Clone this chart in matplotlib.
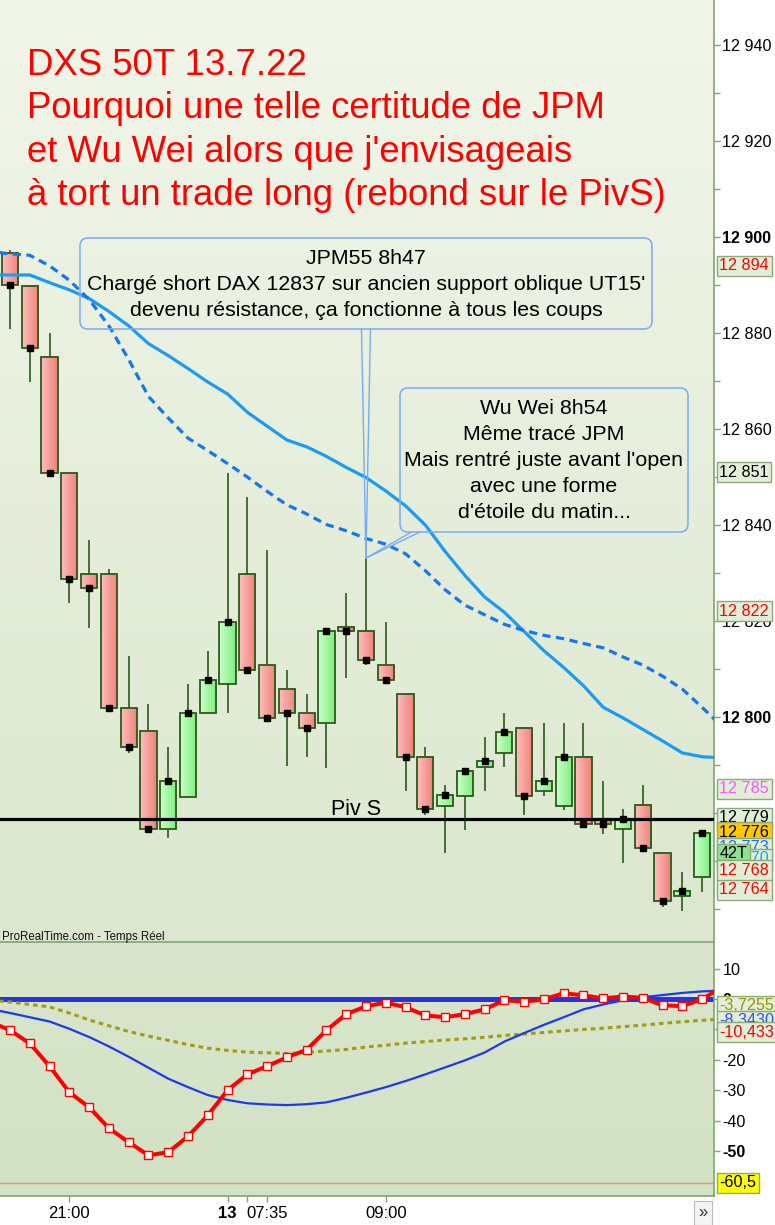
import numpy as np
import matplotlib
matplotlib.use("Agg")
import matplotlib.pyplot as plt
from matplotlib.patches import Rectangle, FancyBboxPatch
from matplotlib.lines import Line2D
from matplotlib.colors import LinearSegmentedColormap
from matplotlib.transforms import Affine2D, blended_transform_factory
import matplotlib.ticker as mticker

plt.rcParams['font.family'] = ['Liberation Sans', 'DejaVu Sans']

# ---------------- data ----------------
opens = [12896.7, 12889.8, 12875.0, 12850.8, 12829.8, 12829.8, 12801.9, 12797.0, 12776.7, 12783.3,
         12800.8, 12806.9, 12829.8, 12810.8, 12805.8, 12800.8, 12798.8, 12818.8, 12817.9, 12810.8,
         12804.8, 12791.7, 12781.5, 12783.5, 12789.6, 12792.5, 12797.7, 12784.6, 12781.5, 12791.7,
         12778.8, 12776.7, 12781.7, 12771.7, 12762.7, 12766.7]
highs = [12897.2, 12889.8, 12880.0, 12850.8, 12836.9, 12830.8, 12812.7, 12802.7, 12793.8, 12806.9,
         12813.8, 12850.8, 12845.8, 12834.8, 12809.8, 12804.8, 12817.9, 12825.8, 12833.1, 12819.8,
         12804.8, 12793.8, 12785.8, 12788.8, 12795.8, 12800.8, 12797.7, 12798.8, 12798.8, 12798.8,
         12786.7, 12780.8, 12785.8, 12771.7, 12767.7, 12775.8]
lows = [12880.8, 12869.8, 12850.8, 12823.8, 12818.5, 12801.9, 12792.5, 12776.5, 12774.8, 12783.3,
        12800.8, 12800.8, 12809.8, 12799.8, 12789.8, 12791.7, 12789.4, 12808.1, 12810.8, 12807.7,
        12784.6, 12779.6, 12771.7, 12776.5, 12784.6, 12789.6, 12779.6, 12783.5, 12780.6, 12777.7,
        12775.6, 12769.6, 12772.7, 12760.4, 12759.6, 12763.5]
closes = [12890.0, 12876.9, 12850.8, 12828.8, 12826.9, 12801.9, 12793.8, 12776.7, 12786.7, 12800.8,
          12807.7, 12819.8, 12809.8, 12799.8, 12800.8, 12797.7, 12817.9, 12817.9, 12811.9, 12807.7,
          12791.7, 12780.8, 12783.8, 12788.8, 12790.8, 12796.9, 12783.5, 12786.7, 12791.7, 12777.7,
          12777.7, 12778.8, 12772.7, 12761.7, 12763.8, 12775.8]

# moving averages, bar index -1 .. 36
ma_solid = [12892.1, 12892.1, 12892.1, 12890.5, 12889.0, 12887.2, 12884.5, 12881.5, 12877.8, 12875.3,
            12872.6, 12869.8, 12867.3, 12863.5, 12860.6, 12857.7, 12856.3, 12854.3, 12852.0, 12849.9,
            12847.1, 12844.0, 12840.0, 12834.5, 12829.5, 12825.0, 12821.8, 12817.8, 12813.8, 12810.3,
            12806.5, 12802.0, 12799.8, 12797.4, 12795.0, 12792.5, 12791.7, 12791.5]
ma_dashed = [12897.0, 12896.5, 12896.2, 12894.0, 12891.0, 12887.0, 12881.5, 12874.5, 12866.8, 12862.3,
             12858.1, 12855.5, 12852.8, 12850.0, 12847.0, 12844.2, 12842.3, 12840.1, 12838.8, 12837.2,
             12836.0, 12834.0, 12830.5, 12826.5, 12823.3, 12821.3, 12819.3, 12818.0, 12817.0, 12816.3,
             12815.3, 12814.4, 12812.5, 12810.8, 12808.5, 12805.8, 12802.0, 12798.0]

# indicator panel, bar index -1 .. 36
osc_red = [-7.5, -10.3, -14.6, -22.1, -30.7, -35.6, -42.5, -47.1, -51.4, -50.4, -45.2, -38.3, -30.0,
           -24.8, -22.1, -19.2, -16.7, -10.3, -5.0, -2.4, -1.2, -2.7, -5.4, -6.0, -5.0, -3.4, -0.4,
           -0.9, -0.1, 1.9, 1.2, 0.2, 0.8, 0.4, -2.1, -2.3, -0.1, 4.0]
osc_blue = [-3.3, -4.6, -6.0, -7.4, -9.8, -12.5, -15.6, -19.0, -22.6, -26.2, -29.0, -31.6, -33.2,
            -34.3, -34.7, -34.9, -34.6, -34.0, -32.5, -30.8, -29.0, -27.0, -24.8, -22.5, -20.2,
            -17.6, -14.0, -11.2, -8.5, -6.0, -3.4, -1.8, -0.4, 0.6, 1.3, 2.0, 2.5, 2.8]
osc_olive = [-0.4, -1.0, -1.8, -2.6, -4.6, -6.9, -8.8, -10.7, -12.2, -13.6, -15.0, -16.2, -16.9,
             -17.5, -17.7, -17.9, -17.6, -17.1, -16.6, -15.8, -15.2, -14.5, -14.0, -13.5, -13.1,
             -12.6, -12.0, -11.5, -11.0, -10.5, -10.0, -9.6, -9.1, -8.6, -8.0, -7.5, -7.0, -6.6]

pivot_s = 12778.75
osc_zero = 0.0
osc_low = -60.5

price_ticks = [12780, 12800, 12820, 12840, 12860, 12880, 12900, 12920, 12940]
price_tick_labels = ["", "12 800", "12 820", "12 840", "12 860", "12 880", "12 900", "12 920", "12 940"]
osc_ticks = [10, 0, -10, -20, -30, -40, -50]
x_tick_pos = [3, 11, 12, 13, 19]
x_tick_labels = ["21:00", "13", "", "07:35", "09:00"]

title_lines = ["DXS 50T 13.7.22",
               "Pourquoi une telle certitude de JPM",
               "et Wu Wei alors que j'envisageais",
               "à tort un trade long (rebond sur le PivS)"]
jpm_lines = ["JPM55 8h47",
             "Chargé short DAX 12837 sur ancien support oblique UT15'",
             "devenu résistance, ça fonctionne à tous les coups"]
wu_lines = ["Wu Wei 8h54", "Même tracé JPM", "Mais rentré juste avant l'open",
            "avec une forme", "d'étoile du matin..."]

price_labels = [(12894, "12 894", "#ff0000", "#e3eed8"),
                (12851, "12 851", "#000000", "#e3eed8"),
                (12822, "12 822", "#ff0000", "#e3eed8"),
                (12785, "12 785", "#ff55ff", "#e3eed8"),
                (12779, "12 779", "#000000", "#e3eed8"),
                (12776, "12 776", "#000000", "#ffc800"),
                (12772.7, "12 773", "#1e6cff", "#e3eed8"),
                (12770.4, "12 770", "#1e9cff", "#e3eed8"),
                (12771.5, "42T", "#000000", "#8fe08f"),
                (12768, "12 768", "#ff0000", "#e3eed8"),
                (12764, "12 764", "#ff0000", "#e3eed8")]
osc_labels = [(-2.3, "-3,7255", "#9a9400", "#e3eed8"),
              (-7.2, "-8,3430", "#2a50ff", "#e3eed8"),
              (-10.9, "-10,433", "#ff0000", "#e3eed8"),
              (-60.5, "-60,5", "#000000", "#ffff00")]

# ---------------- figure ----------------
W, H = 775, 1225
fig = plt.figure(figsize=(W / 100, H / 100), dpi=100)
fig.patch.set_facecolor('white')
P = Affine2D().scale(1.0 / W, -1.0 / H).translate(0, 1) + fig.transFigure  # pixel frame (top-left origin)

ax = fig.add_axes([0, 1 - 942 / H, 714 / W, 942 / H])
ax2 = fig.add_axes([0, 1 - 1196 / H, 714 / W, (1196 - 942) / H])

xlim = (-0.506, 35.6)
ax.set_xlim(*xlim)
ax2.set_xlim(*xlim)
ax.set_ylim(12753.1, 12949.4)
ax2.set_ylim(-64.8, 18.75)

grad = np.linspace(0, 1, 256).reshape(-1, 1)
ax.imshow(grad, extent=[0, 1, 0, 1], transform=ax.transAxes, aspect='auto', origin='upper',
          cmap=LinearSegmentedColormap.from_list('bg1', ['#f2f6ea', '#dbe7ce']), zorder=0)
ax2.imshow(grad, extent=[0, 1, 0, 1], transform=ax2.transAxes, aspect='auto', origin='upper',
           cmap=LinearSegmentedColormap.from_list('bg2', ['#d9e6cd', '#d2e2c4']), zorder=0)

edge_c = '#2b5a18'
for a in (ax, ax2):
    a.spines['left'].set_visible(False)
    for s in ('right', 'top', 'bottom'):
        a.spines[s].set_color('#7fa574')
        a.spines[s].set_linewidth(1.2)
ax.spines['top'].set_visible(False)
ax.spines['bottom'].set_visible(False)

# candles
red_cm = LinearSegmentedColormap.from_list('rc', ['#ffbdbd', '#ef8279'])
grn_cm = LinearSegmentedColormap.from_list('gc', ['#c8ffc8', '#7eee7e'])
hgrad = np.linspace(0, 1, 32).reshape(1, -1)
w = 0.82
xs = np.arange(len(opens))
ax.vlines(xs, lows, highs, color=edge_c, lw=1.2, zorder=2)
for i, (o, h, l, c) in enumerate(zip(opens, highs, lows, closes)):
    lo, hi = min(o, c), max(o, c)
    cm = grn_cm if c > o else red_cm
    ax.imshow(hgrad, extent=[i - w / 2, i + w / 2, lo, hi], aspect='auto', cmap=cm,
              interpolation='bilinear', zorder=3)
    ax.add_patch(Rectangle((i - w / 2, lo), w, hi - lo, fill=False, ec=edge_c, lw=1.3, zorder=4))
ax.plot(xs, closes, 's', color='black', ms=3.8, zorder=5, ls='none')

# moving averages
xi = np.arange(-1, len(ma_solid) - 1)
ax.plot(xi, ma_solid, color='#1b9cf2', lw=2.3, zorder=6, solid_capstyle='butt')
ax.plot(xi, ma_dashed, color='#1577f0', lw=2.3, ls=(0, (2.6, 1.7)), zorder=6)

# pivot
ax.axhline(pivot_s, color='black', lw=2.3, zorder=7)
ax.text(16.25, pivot_s + 0.85, "Piv S", fontsize=15.5, color='black', ha='left', va='baseline', zorder=8)

ax.set_xlim(*xlim)
ax.set_ylim(12753.1, 12949.4)

# y axis main
ax.yaxis.tick_right()
ax.set_yticks(price_ticks)
ax.set_yticklabels(price_tick_labels)
ax.yaxis.set_minor_locator(mticker.MultipleLocator(10))
ax.tick_params(axis='y', which='both', direction='out', length=4, width=1, color='#7fa574',
               labelsize=11.6, pad=2)
for lab, v in zip(ax.get_yticklabels(), price_ticks):
    if v in (12900, 12800):
        lab.set_fontweight('bold')
ax.set_xticks([])

# indicator
x2 = np.arange(-1, len(osc_red) - 1)
ax2.axhline(osc_zero, color='#2832e0', lw=3.6, zorder=2)
ax2.axhline(osc_low, color='#e8927e', lw=1.0, zorder=2)
ax2.plot(x2, osc_olive, color='#a39c12', lw=2.2, ls=(0, (1.5, 1.3)), zorder=3)
ax2.plot(x2, osc_blue, color='#1c3ae6', lw=1.6, zorder=3)
ax2.plot(x2, osc_red, color='#ff0000', lw=2.9, zorder=4, marker='s', ms=5.2, mfc='#fff4f0',
         mec='#ff0000', mew=1.0, markevery=list(range(1, len(osc_red) - 1)))
ax2.set_xlim(*xlim)
ax2.set_ylim(-64.8, 18.75)
ax2.yaxis.tick_right()
ax2.set_yticks(osc_ticks)
ax2.set_yticklabels([str(v) for v in osc_ticks])
ax2.tick_params(axis='y', direction='out', length=4, width=1, color='#7fa574', labelsize=11.6, pad=2)
for lab, v in zip(ax2.get_yticklabels(), osc_ticks):
    if v in (0, -50):
        lab.set_fontweight('bold')
ax2.set_xticks(x_tick_pos)
ax2.set_xticklabels(x_tick_labels)
ax2.tick_params(axis='x', direction='out', length=4, width=1, color='#7fa574', labelsize=12, pad=3)
for lab, t in zip(ax2.get_xticklabels(), x_tick_labels):
    if t == "13":
        lab.set_fontweight('bold')

# right-side value boxes
bt = blended_transform_factory(ax.transAxes, ax.transData)
for v, t, col, fc in price_labels:
    ax.text(1.0075, v, t, transform=bt, fontsize=11.6, color=col, ha='left', va='center',
            clip_on=False, zorder=20,
            bbox=dict(boxstyle='square,pad=0.16', fc=fc, ec='#86ad78', lw=1))
bt2 = blended_transform_factory(ax2.transAxes, ax2.transData)
for v, t, col, fc in osc_labels:
    ax2.text(1.0075, v, t, transform=bt2, fontsize=11.6, color=col, ha='left', va='center',
             clip_on=False, zorder=20,
             bbox=dict(boxstyle='square,pad=0.16', fc=fc, ec='#86ad78', lw=1))

# watermark text
fig.text(2 / W, 1 - 940 / H, "ProRealTime.com - Temps Réel", fontsize=8.3, color='#111111',
         ha='left', va='baseline')

# title
for k, line in enumerate(title_lines):
    fig.text(27 / W, 1 - (75 + 43.4 * k) / H, line, fontsize=26.3, color='#ff0000',
             ha='left', va='baseline')

# callouts
fig.canvas.draw()
tip_disp = ax.transData.transform((18, highs[18]))
tip = (tip_disp[0], H - tip_disp[1])
box_ec = '#7aaaf6'
b1 = FancyBboxPatch((80, 238), 572, 91, boxstyle='round,pad=0,rounding_size=8',
                    transform=P, fill=False, ec=box_ec, lw=1.1, zorder=30)
fig.add_artist(b1)
b2 = FancyBboxPatch((400, 388), 288, 144, boxstyle='round,pad=0,rounding_size=8',
                    transform=P, fill=False, ec=box_ec, lw=1.1, zorder=30)
fig.add_artist(b2)
for (xa, ya) in [(361.5, 329), (370.5, 329), (411.5, 532), (420, 532)]:
    fig.add_artist(Line2D([xa, tip[0]], [ya, tip[1]], transform=P, color=box_ec, lw=1.0, zorder=30))
for k, line in enumerate(jpm_lines):
    fig.text(366 / W, 1 - (264 + 26 * k) / H, line, fontsize=15.4, color='black',
             ha='center', va='baseline', zorder=31)
for k, line in enumerate(wu_lines):
    fig.text(544 / W, 1 - (414 + 26 * k) / H, line, fontsize=15.4, color='black',
             ha='center', va='baseline', zorder=31)

# scroll button
fig.text(703 / W, 1 - 1213 / H, "»", fontsize=12, color='#333333', ha='center', va='center',
         bbox=dict(boxstyle='square,pad=0.25', fc='#f4f4f4', ec='#bbbbbb', lw=0.8))

fig.savefig("out.png", dpi=100, facecolor='white')
